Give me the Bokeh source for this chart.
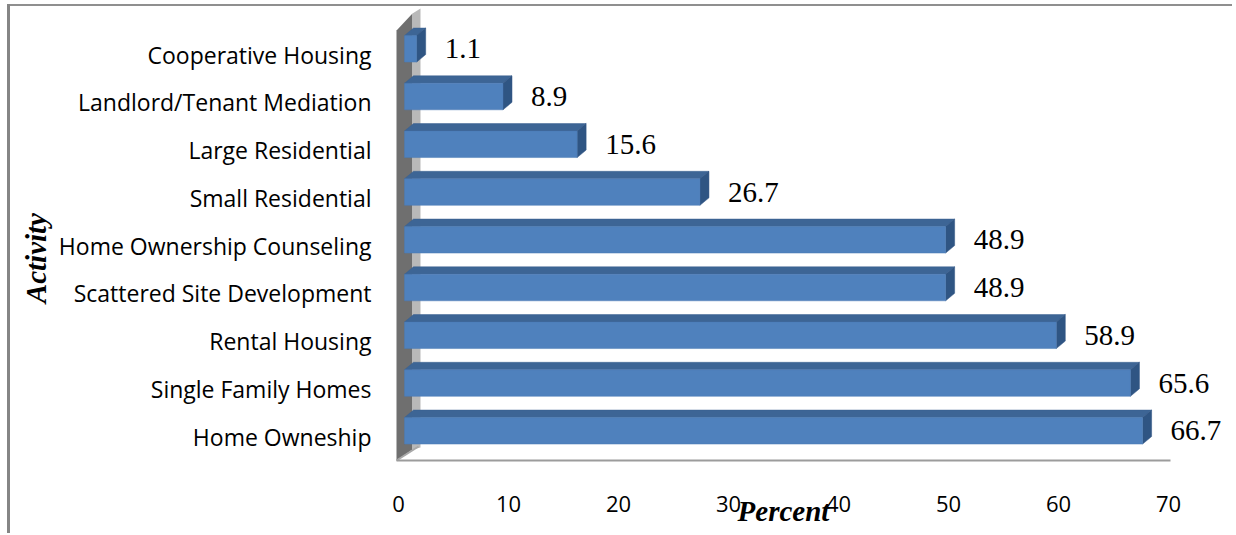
import numpy as np
from bokeh.plotting import figure
from bokeh.models import FixedTicker, LinearAxis, Range1d
from bokeh.core.properties import value
from bokeh.embed import file_html
from bokeh.resources import INLINE

# ---------------- data ----------------
categories = ["Home Owneship", "Single Family Homes", "Rental Housing",
              "Scattered Site Development", "Home Ownership Counseling",
              "Small Residential", "Large Residential",
              "Landlord/Tenant Mediation", "Cooperative Housing"]
percent = [66.7, 65.6, 58.9, 48.9, 48.9, 26.7, 15.6, 8.9, 1.1]
x_ticks = [0, 10, 20, 30, 40, 50, 60, 70]
x_title = "Percent"
y_title = "Activity"

# ---------------- geometry ----------------
PX_X = 11.0          # px per percent unit
PX_Y = 47.75         # px per category step
FRONT_X0 = 6 / PX_X  # front face starts slightly right of the axis origin
FRONT_SCALE = 1.006
DEPTH_X = 9 / PX_X
DEPTH_Y = 7.5 / PX_Y
HALF_H = 13.25 / PX_Y
FRONT_OFF = 5.7 / PX_Y
LABEL_GAP = 19 / PX_X

ORIGIN_X, ORIGIN_Y = 398, 436   # page px of (0, category 0)


def dx(px):
    return (px - ORIGIN_X) / PX_X


def dy(py):
    return (ORIGIN_Y - py) / PX_Y


FRAME_L, FRAME_R, FRAME_T, FRAME_B = 387, 1232, 6, 470
W, H = FRAME_R, 533

p = figure(width=W, height=H, output_backend="svg", toolbar_location=None,
           x_range=Range1d(dx(FRAME_L), dx(FRAME_R)), y_range=Range1d(dy(FRAME_B), dy(FRAME_T)),
           min_border_left=FRAME_L, min_border_right=0,
           min_border_top=FRAME_T, min_border_bottom=H - FRAME_B)
# chart-area border (left and top edges), shown through the transparent border area
p.styles = {"background": "linear-gradient(#858585, #858585) 7px 4px / 3px 529px no-repeat, "
                          "linear-gradient(#8f8f8f, #8f8f8f) 7px 4px / 1225px 2px no-repeat"}
p.outline_line_color = None
p.background_fill_color = "white"
p.border_fill_color = None
p.xgrid.visible = False
p.ygrid.visible = False

# ---------------- wall & floor ----------------
p.patch([dx(396), dx(412), dx(412), dx(396)], [dy(30), dy(13), dy(449), dy(460)],
        fill_color="#6f6f6f", line_color=None)
p.patch([dx(412), dx(420), dx(420), dx(412)], [dy(13), dy(8), dy(447), dy(449)],
        fill_color="#b9b9b9", line_color=None)
p.line([dx(396), dx(418)], [dy(460), dy(446)], line_color="#a8a8a8", line_width=2)
p.line([dx(396), dx(1170)], [dy(460), dy(460)], line_color="#9c9c9c", line_width=2)

# ---------------- bars ----------------
idx = np.arange(len(categories))
vals = np.array(percent)
y0 = idx + FRONT_OFF - HALF_H
y1 = idx + FRONT_OFF + HALF_H
x0 = np.full(len(vals), FRONT_X0)
x1 = FRONT_X0 + vals * FRONT_SCALE

top_xs = [[a, a + DEPTH_X, b + DEPTH_X, b] for a, b in zip(x0, x1)]
top_ys = [[t, t + DEPTH_Y, t + DEPTH_Y, t] for t in y1]
side_xs = [[b, b, b + DEPTH_X, b + DEPTH_X] for b in x1]
side_ys = [[bo, t, t + DEPTH_Y, bo + DEPTH_Y] for bo, t in zip(y0, y1)]

p.patches(top_xs, top_ys, fill_color="#3d6595", line_color="#3a6190", line_width=0.5)
p.patches(side_xs, side_ys, fill_color="#2f5583", line_color="#2c5180", line_width=0.5)
p.quad(left=x0, right=x1, bottom=y0, top=y1, fill_color="#4f81bd",
       line_color="#4a7bb5", line_width=0.5)

# value labels
p.text(x=x1 + DEPTH_X + LABEL_GAP, y=idx + FRONT_OFF, text=[f"{v:.1f}" for v in percent],
       text_font=value("Liberation Serif"), text_font_size="29px",
       text_align="left", text_baseline="middle", text_color="black")

# ---------------- axes ----------------
def plain(ax):
    ax.axis_line_color = None
    ax.major_tick_line_color = None
    ax.minor_tick_line_color = None
    ax.major_tick_out = 0
    ax.major_tick_in = 0


xa = p.xaxis[0]
plain(xa)
xa.ticker = FixedTicker(ticks=x_ticks)
xa.major_label_standoff = 25
xa.major_label_text_font = "Open Sans"
xa.major_label_text_font_size = "22px"
xa.major_label_text_color = "black"

ya = p.yaxis[0]
plain(ya)
ya.ticker = FixedTicker(ticks=list(range(len(categories))))
ya.major_label_overrides = {i: c for i, c in enumerate(categories)}
ya.major_label_standoff = 16
ya.major_label_text_font = "Open Sans"
ya.major_label_text_font_size = "23px"
ya.major_label_text_color = "black"

# axis titles, placed as single labelled ticks of extra axes
X_TITLE_AT = 35
Y_TITLE_AT = 4.68

xt = LinearAxis(ticker=FixedTicker(ticks=[X_TITLE_AT]),
                major_label_overrides={X_TITLE_AT: x_title})
plain(xt)
xt.major_label_standoff = -20
xt.major_label_text_font = "Liberation Serif"
xt.major_label_text_font_style = "bold italic"
xt.major_label_text_font_size = "29px"
xt.major_label_text_color = "black"
p.add_layout(xt, "below")

yt = LinearAxis(ticker=FixedTicker(ticks=[Y_TITLE_AT]),
                major_label_overrides={Y_TITLE_AT: y_title})
plain(yt)
yt.major_label_orientation = np.pi / 2
yt.major_label_standoff = 19
yt.major_label_text_font = "Liberation Serif"
yt.major_label_text_font_style = "bold italic"
yt.major_label_text_font_size = "29px"
yt.major_label_text_color = "black"
p.add_layout(yt, "left")

open("out.html", "w").write(file_html(p, INLINE))
